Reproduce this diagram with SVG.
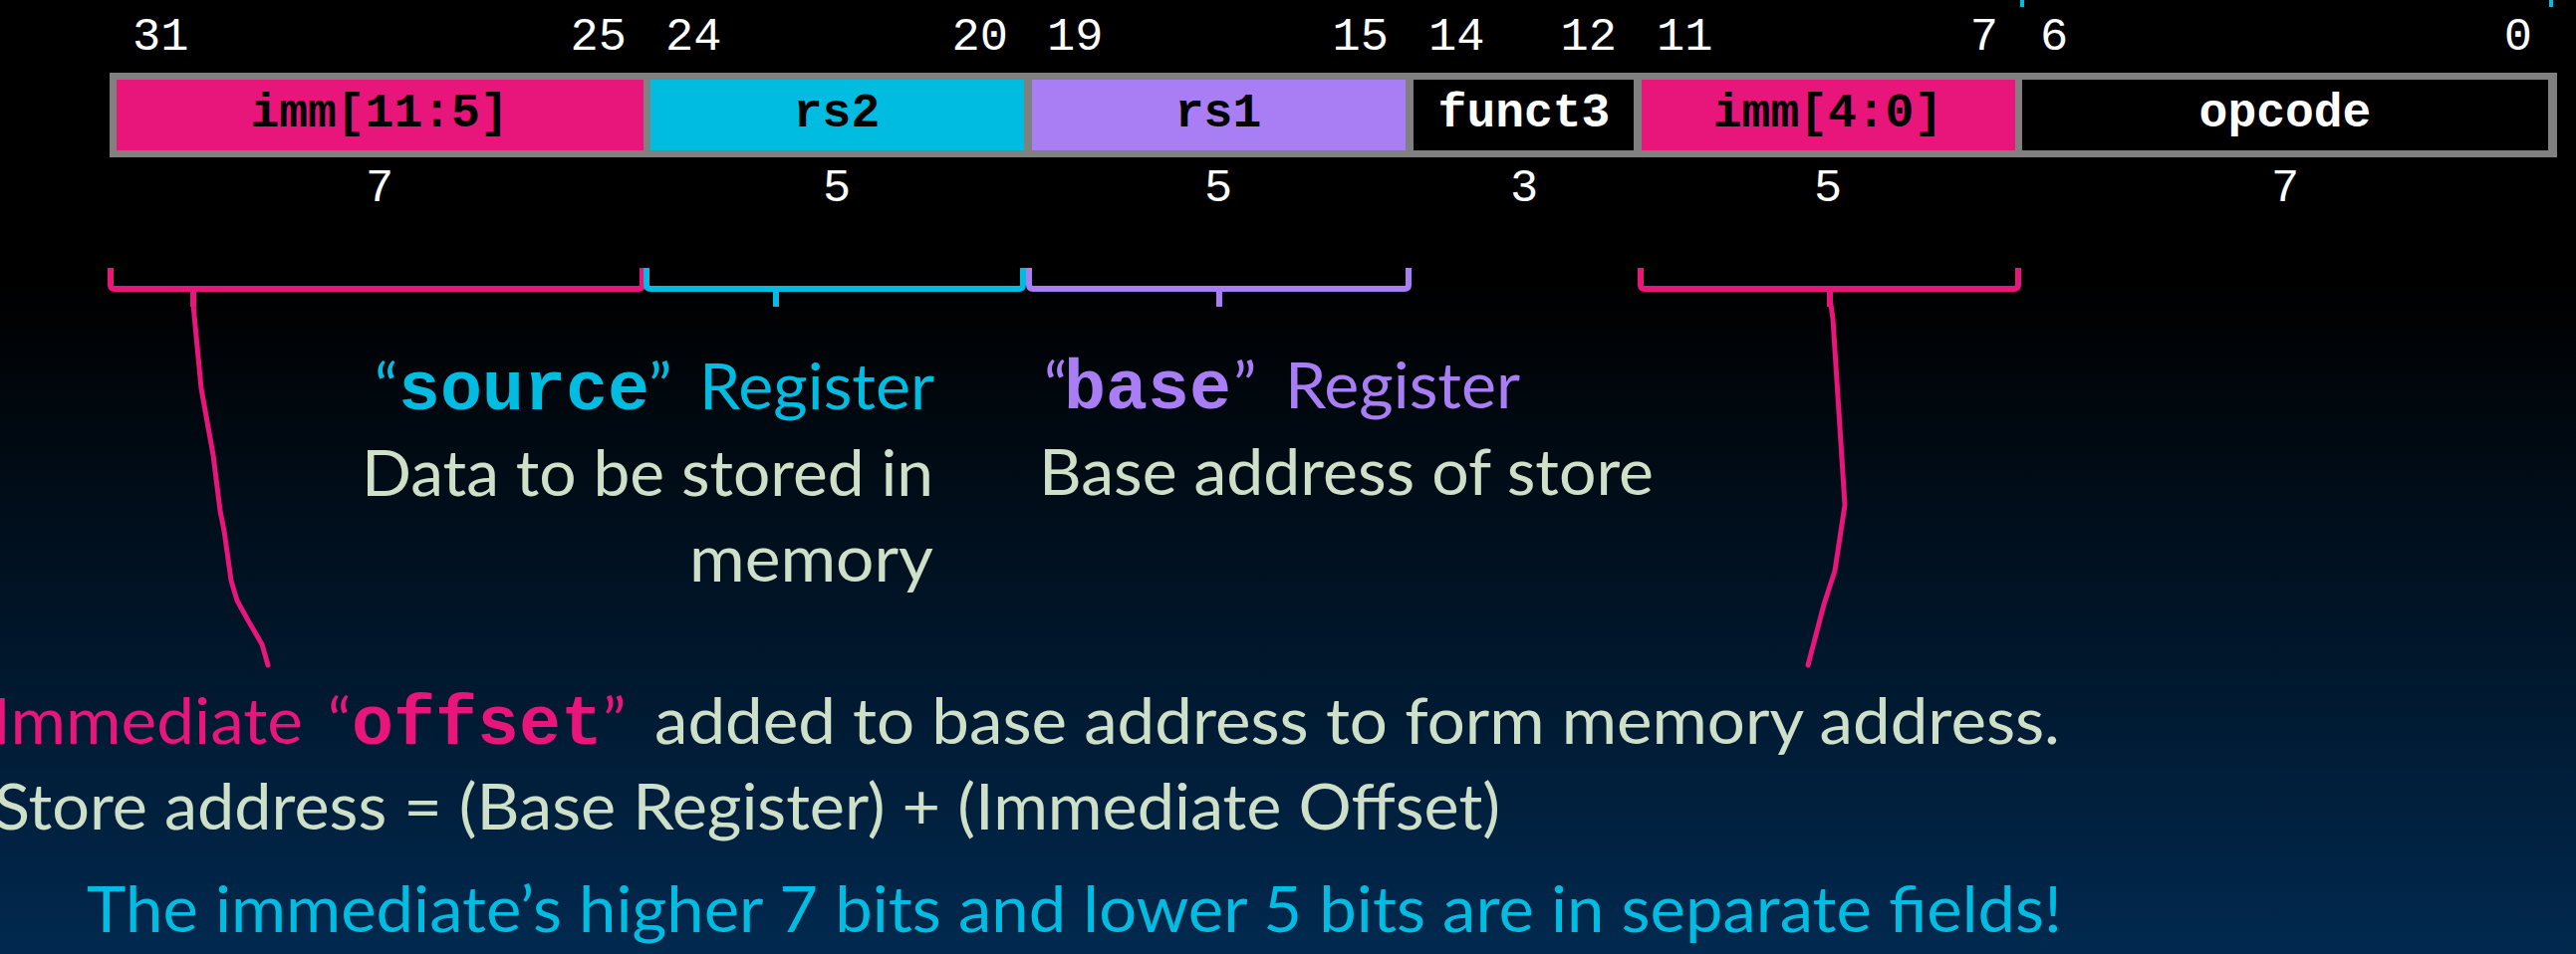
<svg xmlns="http://www.w3.org/2000/svg" width="2586" height="958" viewBox="0 0 2586 958">
  <defs>
    <linearGradient id="bg" x1="0" y1="0" x2="0" y2="1">
      <stop offset="0" stop-color="#000000"/>
      <stop offset="0.3" stop-color="#000000"/>
      <stop offset="1" stop-color="#01294F"/>
    </linearGradient>
  </defs>
  <style>
    .bit { font-family: "Liberation Mono", "Courier New", monospace; font-size: 47px; fill: #ffffff; }
    .cnt { font-family: "Liberation Mono", "Courier New", monospace; font-size: 47px; fill: #ffffff; text-anchor: middle; }
    .lbl { font-family: "Liberation Mono", "Courier New", monospace; font-size: 48px; font-weight: bold; text-anchor: middle; }
    .mono { font-family: "Liberation Mono", "Courier New", monospace; font-size: 70px; font-weight: bold; }
    .sans { font-family: "Lato", "Open Sans", sans-serif; font-size: 64px; }
    .pink { fill: #E8157A; }
    .cyan { fill: #00BCE0; }
    .purple { fill: #A97EF5; }
    .light { fill: #CFE0C9; }
    .brk { fill: none; stroke-width: 6; stroke-linejoin: round; stroke-linecap: butt; }
    .conn { fill: none; stroke: #E8157A; stroke-width: 5; stroke-linejoin: round; stroke-linecap: round; }
  </style>

  <rect x="0" y="0" width="2586" height="958" fill="url(#bg)"/>

  <!-- cut-off marks at top edge -->
  <g id="top-marks" stroke="#00BCE0" stroke-width="4">
    <line x1="2030" y1="0" x2="2030" y2="7"/>
    <line x1="2561" y1="0" x2="2561" y2="7"/>
  </g>

  <!-- bit positions -->
  <g id="bit-numbers" class="bit">
    <text x="133" y="50">31</text>
    <text x="629" y="50" text-anchor="end">25</text>
    <text x="668" y="50">24</text>
    <text x="1012" y="50" text-anchor="end">20</text>
    <text x="1051" y="50">19</text>
    <text x="1394" y="50" text-anchor="end">15</text>
    <text x="1434" y="50">14</text>
    <text x="1623" y="50" text-anchor="end">12</text>
    <text x="1663" y="50">11</text>
    <text x="2006" y="50" text-anchor="end">7</text>
    <text x="2048" y="50">6</text>
    <text x="2542" y="50" text-anchor="end">0</text>
  </g>

  <!-- instruction format bar -->
  <rect id="frame" x="110" y="73" width="2457" height="85" fill="#808080"/>
  <g id="field-imm11_5">
    <rect x="117" y="80" width="529" height="71" fill="#E8157A"/>
    <text class="lbl" x="381" y="127" fill="#000000">imm[11:5]</text>
  </g>
  <g id="field-rs2">
    <rect x="653" y="80" width="375" height="71" fill="#00BCE0"/>
    <text class="lbl" x="840" y="127" fill="#000000">rs2</text>
  </g>
  <g id="field-rs1">
    <rect x="1036" y="80" width="375" height="71" fill="#A97EF5"/>
    <text class="lbl" x="1223" y="127" fill="#000000">rs1</text>
  </g>
  <g id="field-funct3">
    <rect x="1419" y="80" width="221" height="71" fill="#000000"/>
    <text class="lbl" x="1530" y="127" fill="#ffffff">funct3</text>
  </g>
  <g id="field-imm4_0">
    <rect x="1648" y="80" width="375" height="71" fill="#E8157A"/>
    <text class="lbl" x="1835" y="127" fill="#000000">imm[4:0]</text>
  </g>
  <g id="field-opcode">
    <rect x="2030" y="80" width="528" height="71" fill="#000000"/>
    <text class="lbl" x="2294" y="127" fill="#ffffff">opcode</text>
  </g>

  <!-- field widths -->
  <g id="field-widths" class="cnt">
    <text x="381" y="202">7</text>
    <text x="840" y="202">5</text>
    <text x="1223" y="202">5</text>
    <text x="1530" y="202">3</text>
    <text x="1835" y="202">5</text>
    <text x="2294" y="202">7</text>
  </g>

  <!-- brackets and connectors -->
  <g id="connectors">
    <path class="brk" stroke="#E8157A" d="M111,269 V286 Q111,290 115,290 H641 Q645,290 645,286 V269 M194,290 V308"/>
    <path class="brk" stroke="#00BCE0" d="M649,269 V286 Q649,290 653,290 H1023 Q1027,290 1027,286 V269 M779,290 V308"/>
    <path class="brk" stroke="#A97EF5" d="M1033,269 V286 Q1033,290 1037,290 H1410 Q1414,290 1414,286 V269 M1224,290 V308"/>
    <path class="brk" stroke="#E8157A" d="M1647,269 V286 Q1647,290 1651,290 H2022 Q2026,290 2026,286 V269 M1837,290 V308"/>
    <polyline class="conn" points="194,306 202,390 214,457 221,513 225,533 232,583 238,603 249,623 263,647 269,668"/>
    <polyline class="conn" points="1838,306 1840,320 1852,507 1842,573 1831,607 1815,668"/>
  </g>

  <!-- source register annotation -->
  <g id="note-source">
    <text y="411"><tspan class="sans cyan" x="376">“</tspan><tspan class="mono cyan" x="400">source</tspan><tspan class="sans cyan" x="651">”</tspan><tspan class="sans cyan" x="702" textLength="236" lengthAdjust="spacingAndGlyphs">Register</tspan></text>
    <text class="sans light" x="363" y="498" textLength="574" lengthAdjust="spacingAndGlyphs">Data to be stored in</text>
    <text class="sans light" x="692" y="584" textLength="245" lengthAdjust="spacingAndGlyphs">memory</text>
  </g>

  <!-- base register annotation -->
  <g id="note-base">
    <text y="410"><tspan class="sans purple" x="1048">“</tspan><tspan class="mono purple" x="1068">base</tspan><tspan class="sans purple" x="1238">”</tspan><tspan class="sans purple" x="1290" textLength="236" lengthAdjust="spacingAndGlyphs">Register</tspan></text>
    <text class="sans light" x="1043" y="497" textLength="617" lengthAdjust="spacingAndGlyphs">Base address of store</text>
  </g>

  <!-- offset annotation -->
  <g id="note-offset">
    <text y="747"><tspan class="sans pink" x="-8" textLength="312" lengthAdjust="spacingAndGlyphs">Immediate</tspan><tspan class="sans pink" x="329">“</tspan><tspan class="mono pink" x="353">offset</tspan><tspan class="sans pink" x="605">”</tspan><tspan class="sans light" x="657" textLength="1411" lengthAdjust="spacingAndGlyphs">added to base address to form memory address.</tspan></text>
    <text class="sans light" x="-6" y="833" textLength="1512" lengthAdjust="spacingAndGlyphs">Store address = (Base Register) + (Immediate Offset)</text>
    <text class="sans cyan" x="87" y="936" textLength="1983" lengthAdjust="spacingAndGlyphs">The immediate’s higher 7 bits and lower 5 bits are in separate fields!</text>
  </g>
</svg>
